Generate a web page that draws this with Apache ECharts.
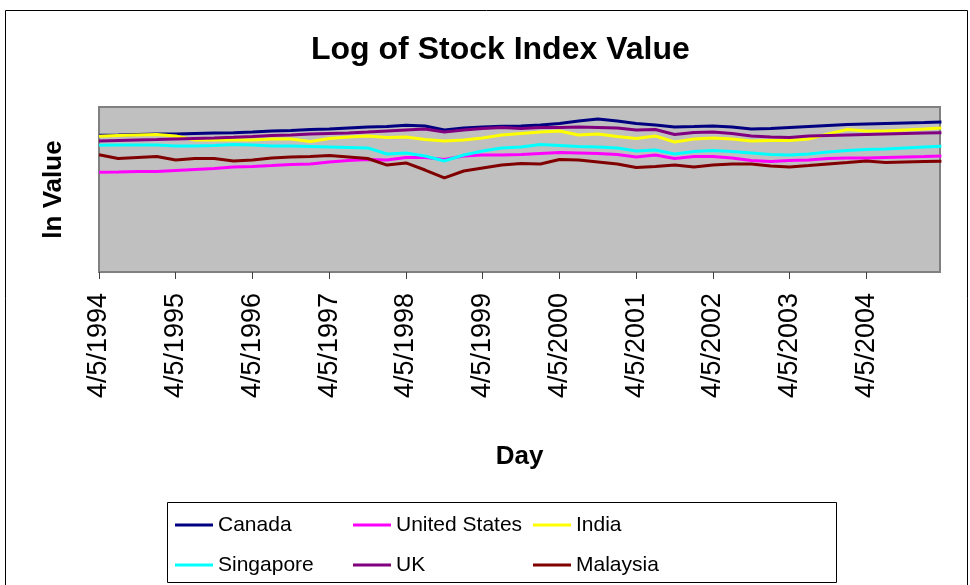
<!DOCTYPE html>
<html>
<head>
<meta charset="utf-8">
<script src="https://cdn.jsdelivr.net/npm/echarts@6/dist/echarts.min.js"></script>
<style>
html,body{margin:0;padding:0;background:#fff;}
#chart{width:970px;height:585px;}
</style>
</head>
<body>
<div id="chart"></div>
<script>
// Sample dates (quarterly readings from the picture)
const dates = ['1994-04-05','1994-07-05','1994-10-05','1995-01-05','1995-04-05','1995-07-05','1995-10-05','1996-01-05',
  '1996-04-05','1996-07-05','1996-10-05','1997-01-05','1997-04-05','1997-07-05','1997-10-05','1998-01-05',
  '1998-04-05','1998-07-05','1998-10-05','1999-01-05','1999-04-05','1999-07-05','1999-10-05','2000-01-05',
  '2000-04-05','2000-07-05','2000-10-05','2001-01-05','2001-04-05','2001-07-05','2001-10-05','2002-01-05',
  '2002-04-05','2002-07-05','2002-10-05','2003-01-05','2003-04-05','2003-07-05','2003-10-05','2004-01-05',
  '2004-04-05','2004-07-05','2004-10-05','2005-01-05','2005-03-28'];

const canada = [8.29,8.30,8.33,8.36,8.36,8.39,8.42,8.44,8.48,8.55,8.58,8.64,8.67,8.73,8.79,8.82,8.89,8.85,8.61,8.73,8.79,8.83,8.85,8.91,9.00,9.15,9.27,9.15,9.00,8.91,8.79,8.82,8.85,8.79,8.67,8.70,8.76,8.82,8.88,8.94,8.97,9.00,9.03,9.06,9.09];
const unitedStates = [6.04,6.06,6.09,6.09,6.15,6.21,6.27,6.36,6.39,6.45,6.52,6.55,6.67,6.76,6.82,6.79,6.94,6.94,6.82,7.03,7.09,7.09,7.12,7.18,7.24,7.21,7.18,7.12,6.97,7.09,6.88,7.00,7.00,6.91,6.76,6.70,6.76,6.79,6.88,6.91,6.91,6.94,6.97,7.00,7.03];
const india = [8.22,8.27,8.30,8.33,8.24,8.00,8.00,8.00,8.00,8.06,8.06,7.91,8.09,8.18,8.24,8.15,8.18,8.03,7.94,8.00,8.12,8.30,8.39,8.48,8.55,8.30,8.36,8.21,8.09,8.24,7.88,8.06,8.12,8.06,7.94,7.97,7.97,8.06,8.36,8.64,8.55,8.55,8.61,8.67,8.73];
const singapore = [7.68,7.70,7.70,7.70,7.64,7.64,7.67,7.73,7.70,7.64,7.64,7.61,7.58,7.55,7.52,7.15,7.21,7.03,6.73,7.09,7.33,7.52,7.58,7.73,7.67,7.61,7.58,7.52,7.33,7.39,7.15,7.30,7.36,7.30,7.21,7.12,7.09,7.15,7.27,7.36,7.42,7.45,7.52,7.58,7.62];
const uk = [7.94,7.97,8.00,8.03,8.06,8.09,8.12,8.16,8.21,8.27,8.30,8.36,8.39,8.42,8.48,8.55,8.61,8.67,8.48,8.61,8.70,8.76,8.70,8.76,8.76,8.79,8.76,8.73,8.61,8.64,8.33,8.45,8.48,8.39,8.24,8.18,8.15,8.24,8.27,8.30,8.33,8.36,8.39,8.42,8.44];
const malaysia = [7.11,6.88,6.94,7.00,6.79,6.88,6.88,6.73,6.79,6.91,6.97,7.00,7.06,6.97,6.88,6.48,6.61,6.18,5.70,6.12,6.30,6.48,6.58,6.55,6.82,6.79,6.67,6.55,6.33,6.39,6.48,6.36,6.48,6.55,6.55,6.42,6.36,6.45,6.55,6.64,6.73,6.64,6.67,6.70,6.71];

const seriesNames = ['Canada','United States','India','Singapore','UK','Malaysia'];
const seriesValues = [canada, unitedStates, india, singapore, uk, malaysia];
const seriesColors = ['#000080','#FF00FF','#FFFF00','#00FFFF','#800080','#800000'];

const startDate = Date.parse('1994-04-05');
const yearsSince = d => (Date.parse(d) - startDate) / (365.25 * 86400000);
const tickLabel = v => '4/5/' + (1994 + Math.round(v));

const FONT = "'Liberation Sans', Arial, sans-serif";

const chart = echarts.init(document.getElementById('chart'), null, {renderer: 'canvas'});

const legendCommon = {
  orient: 'vertical', padding: 0, itemGap: 14, itemWidth: 38, itemHeight: 3, icon: 'rect',
  textStyle: {fontFamily: FONT, fontSize: 21, color: '#000', lineHeight: 26},
  selectedMode: false, top: 512
};

chart.setOption({
  animation: false,
  backgroundColor: '#fff',
  title: {
    text: 'Log of Stock Index Value', left: 306, top: 29,
    textStyle: {fontFamily: FONT, fontSize: 32, fontWeight: 'bold', color: '#000'}
  },
  graphic: [
    {type: 'rect', shape: {x: 5.5, y: 10.5, width: 962, height: 590}, style: {fill: 'none', stroke: '#000', lineWidth: 1}, silent: true, z: -1},
    {type: 'rect', shape: {x: 167.5, y: 502.5, width: 669, height: 80}, style: {fill: 'none', stroke: '#000', lineWidth: 1}, silent: true}
  ],
  legend: [
    Object.assign({}, legendCommon, {left: 175, data: ['Canada','Singapore']}),
    Object.assign({}, legendCommon, {left: 353, data: ['United States','UK']}),
    Object.assign({}, legendCommon, {left: 533, data: ['India','Malaysia']})
  ],
  grid: {left: 99, top: 107, width: 841, height: 165, show: true, backgroundColor: '#C0C0C0', borderColor: '#808080', borderWidth: 2},
  xAxis: {
    type: 'value', min: 0, max: 10.96, interval: 1,
    name: 'Day', nameLocation: 'middle', nameGap: 172,
    nameTextStyle: {fontFamily: FONT, fontSize: 26, fontWeight: 'bold', color: '#000'},
    axisLine: {show: true, lineStyle: {color: '#808080', width: 2}},
    axisTick: {show: true, length: 7, lineStyle: {color: '#404040', width: 1}},
    splitLine: {show: false},
    axisLabel: {rotate: 90, margin: 21, fontFamily: FONT, fontSize: 27, color: '#000', formatter: tickLabel, showMaxLabel: false}
  },
  yAxis: {
    type: 'value', min: 0, max: 10,
    name: 'ln Value', nameLocation: 'middle', nameGap: 32, nameRotate: 90,
    nameTextStyle: {fontFamily: FONT, fontSize: 26, fontWeight: 'bold', color: '#000'},
    axisLine: {show: false}, axisTick: {show: false}, axisLabel: {show: false}, splitLine: {show: false}
  },
  series: seriesNames.map((name, i) => ({
    name: name, type: 'line', symbol: 'none', showSymbol: false,
    color: seriesColors[i],
    lineStyle: {color: seriesColors[i], width: 3},
    data: dates.map((d, j) => [yearsSince(d), seriesValues[i][j]])
  }))
});
</script>
</body>
</html>
